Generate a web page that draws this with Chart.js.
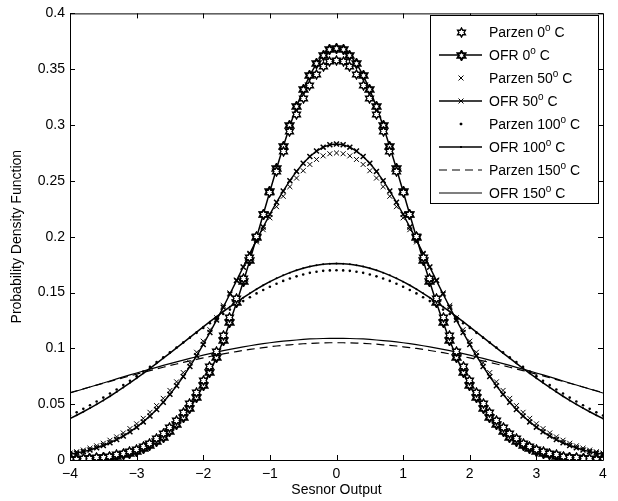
<!DOCTYPE html>
<html>
<head>
<meta charset="utf-8">
<script src="https://cdn.jsdelivr.net/npm/chart.js@4.4.1/dist/chart.umd.min.js"></script>
<style>
  body { margin: 0; background: #fff; }
  canvas { display: block; }
</style>
</head>
<body>
<canvas id="pdf_canvas" width="618" height="501"></canvas>
<script>
// sensor output grid, -4 .. 4 in steps of 0.1
const x_values = [-4.0, -3.9, -3.8, -3.7, -3.6, -3.5, -3.4, -3.3, -3.2, -3.1, -3.0, -2.9, -2.8, -2.7, -2.6, -2.5, -2.4, -2.3, -2.2, -2.1, -2.0, -1.9, -1.8, -1.7, -1.6, -1.5, -1.4, -1.3, -1.2, -1.1, -1.0, -0.9, -0.8, -0.7, -0.6, -0.5, -0.4, -0.3, -0.2, -0.1, 0.0, 0.1, 0.2, 0.3, 0.4, 0.5, 0.6, 0.7, 0.8, 0.9, 1.0, 1.1, 1.2, 1.3, 1.4, 1.5, 1.6, 1.7, 1.8, 1.9, 2.0, 2.1, 2.2, 2.3, 2.4, 2.5, 2.6, 2.7, 2.8, 2.9, 3.0, 3.1, 3.2, 3.3, 3.4, 3.5, 3.6, 3.7, 3.8, 3.9, 4.0]

const parzen_0 = [0.0006, 0.0008, 0.0011, 0.0014, 0.0019, 0.0026, 0.0034, 0.0045, 0.0058, 0.0075, 0.0095, 0.0121, 0.0152, 0.0190, 0.0235, 0.0289, 0.0352, 0.0425, 0.0509, 0.0606, 0.0714, 0.0836, 0.0970, 0.1117, 0.1276, 0.1446, 0.1625, 0.1812, 0.2004, 0.2199, 0.2393, 0.2583, 0.2766, 0.2939, 0.3097, 0.3237, 0.3357, 0.3453, 0.3523, 0.3566, 0.3580, 0.3566, 0.3523, 0.3453, 0.3357, 0.3237, 0.3097, 0.2939, 0.2766, 0.2583, 0.2393, 0.2199, 0.2004, 0.1812, 0.1625, 0.1446, 0.1276, 0.1117, 0.0970, 0.0836, 0.0714, 0.0606, 0.0509, 0.0425, 0.0352, 0.0289, 0.0235, 0.0190, 0.0152, 0.0121, 0.0095, 0.0075, 0.0058, 0.0045, 0.0034, 0.0026, 0.0019, 0.0014, 0.0011, 0.0008, 0.0006]
const ofr_0 = [0.0004, 0.0005, 0.0008, 0.0011, 0.0014, 0.0020, 0.0026, 0.0035, 0.0046, 0.0060, 0.0078, 0.0101, 0.0129, 0.0163, 0.0205, 0.0254, 0.0314, 0.0384, 0.0465, 0.0559, 0.0666, 0.0787, 0.0922, 0.1071, 0.1234, 0.1409, 0.1595, 0.1790, 0.1993, 0.2199, 0.2405, 0.2609, 0.2806, 0.2992, 0.3163, 0.3316, 0.3446, 0.3551, 0.3627, 0.3674, 0.3690, 0.3674, 0.3627, 0.3551, 0.3446, 0.3316, 0.3163, 0.2992, 0.2806, 0.2609, 0.2405, 0.2199, 0.1993, 0.1790, 0.1595, 0.1409, 0.1234, 0.1071, 0.0922, 0.0787, 0.0666, 0.0559, 0.0465, 0.0384, 0.0314, 0.0254, 0.0205, 0.0163, 0.0129, 0.0101, 0.0078, 0.0060, 0.0046, 0.0035, 0.0026, 0.0020, 0.0014, 0.0011, 0.0008, 0.0005, 0.0004]
const parzen_50 = [0.0062, 0.0074, 0.0089, 0.0106, 0.0127, 0.0150, 0.0177, 0.0207, 0.0242, 0.0281, 0.0324, 0.0373, 0.0427, 0.0487, 0.0552, 0.0623, 0.0700, 0.0783, 0.0871, 0.0965, 0.1064, 0.1167, 0.1274, 0.1384, 0.1497, 0.1612, 0.1726, 0.1841, 0.1953, 0.2063, 0.2169, 0.2269, 0.2362, 0.2448, 0.2525, 0.2591, 0.2647, 0.2692, 0.2724, 0.2743, 0.2750, 0.2743, 0.2724, 0.2692, 0.2647, 0.2591, 0.2525, 0.2448, 0.2362, 0.2269, 0.2169, 0.2063, 0.1953, 0.1841, 0.1726, 0.1612, 0.1497, 0.1384, 0.1274, 0.1167, 0.1064, 0.0965, 0.0871, 0.0783, 0.0700, 0.0623, 0.0552, 0.0487, 0.0427, 0.0373, 0.0324, 0.0281, 0.0242, 0.0207, 0.0177, 0.0150, 0.0127, 0.0106, 0.0089, 0.0074, 0.0062]
const ofr_50 = [0.0051, 0.0062, 0.0075, 0.0090, 0.0109, 0.0130, 0.0155, 0.0183, 0.0215, 0.0252, 0.0294, 0.0341, 0.0394, 0.0452, 0.0517, 0.0588, 0.0665, 0.0748, 0.0838, 0.0933, 0.1035, 0.1142, 0.1253, 0.1368, 0.1487, 0.1607, 0.1729, 0.1850, 0.1970, 0.2087, 0.2201, 0.2308, 0.2409, 0.2502, 0.2585, 0.2658, 0.2718, 0.2767, 0.2802, 0.2823, 0.2830, 0.2823, 0.2802, 0.2767, 0.2718, 0.2658, 0.2585, 0.2502, 0.2409, 0.2308, 0.2201, 0.2087, 0.1970, 0.1850, 0.1729, 0.1607, 0.1487, 0.1368, 0.1253, 0.1142, 0.1035, 0.0933, 0.0838, 0.0748, 0.0665, 0.0588, 0.0517, 0.0452, 0.0394, 0.0341, 0.0294, 0.0252, 0.0215, 0.0183, 0.0155, 0.0130, 0.0109, 0.0090, 0.0075, 0.0062, 0.0051]
const parzen_100 = [0.0398, 0.0427, 0.0458, 0.0490, 0.0524, 0.0559, 0.0595, 0.0632, 0.0671, 0.0710, 0.0751, 0.0792, 0.0834, 0.0877, 0.0920, 0.0964, 0.1008, 0.1052, 0.1095, 0.1139, 0.1182, 0.1225, 0.1267, 0.1308, 0.1347, 0.1386, 0.1423, 0.1458, 0.1492, 0.1523, 0.1552, 0.1579, 0.1604, 0.1626, 0.1645, 0.1662, 0.1676, 0.1686, 0.1694, 0.1698, 0.1700, 0.1698, 0.1694, 0.1686, 0.1676, 0.1662, 0.1645, 0.1626, 0.1604, 0.1579, 0.1552, 0.1523, 0.1492, 0.1458, 0.1423, 0.1386, 0.1347, 0.1308, 0.1267, 0.1225, 0.1182, 0.1139, 0.1095, 0.1052, 0.1008, 0.0964, 0.0920, 0.0877, 0.0834, 0.0792, 0.0751, 0.0710, 0.0671, 0.0632, 0.0595, 0.0559, 0.0524, 0.0490, 0.0458, 0.0427, 0.0398]
const ofr_100 = [0.0371, 0.0401, 0.0432, 0.0465, 0.0499, 0.0534, 0.0571, 0.0610, 0.0650, 0.0691, 0.0733, 0.0776, 0.0821, 0.0866, 0.0912, 0.0958, 0.1005, 0.1052, 0.1099, 0.1146, 0.1193, 0.1239, 0.1284, 0.1329, 0.1372, 0.1414, 0.1454, 0.1493, 0.1530, 0.1565, 0.1597, 0.1627, 0.1654, 0.1678, 0.1699, 0.1718, 0.1733, 0.1745, 0.1753, 0.1758, 0.1760, 0.1758, 0.1753, 0.1745, 0.1733, 0.1718, 0.1699, 0.1678, 0.1654, 0.1627, 0.1597, 0.1565, 0.1530, 0.1493, 0.1454, 0.1414, 0.1372, 0.1329, 0.1284, 0.1239, 0.1193, 0.1146, 0.1099, 0.1052, 0.1005, 0.0958, 0.0912, 0.0866, 0.0821, 0.0776, 0.0733, 0.0691, 0.0650, 0.0610, 0.0571, 0.0534, 0.0499, 0.0465, 0.0432, 0.0401, 0.0371]
const parzen_150 = [0.0604, 0.0620, 0.0637, 0.0654, 0.0671, 0.0687, 0.0704, 0.0720, 0.0737, 0.0753, 0.0769, 0.0785, 0.0801, 0.0816, 0.0831, 0.0846, 0.0860, 0.0874, 0.0888, 0.0901, 0.0914, 0.0927, 0.0939, 0.0950, 0.0961, 0.0971, 0.0981, 0.0990, 0.0999, 0.1007, 0.1014, 0.1021, 0.1027, 0.1032, 0.1037, 0.1041, 0.1044, 0.1047, 0.1049, 0.1050, 0.1050, 0.1050, 0.1049, 0.1047, 0.1044, 0.1041, 0.1037, 0.1032, 0.1027, 0.1021, 0.1014, 0.1007, 0.0999, 0.0990, 0.0981, 0.0971, 0.0961, 0.0950, 0.0939, 0.0927, 0.0914, 0.0901, 0.0888, 0.0874, 0.0860, 0.0846, 0.0831, 0.0816, 0.0801, 0.0785, 0.0769, 0.0753, 0.0737, 0.0720, 0.0704, 0.0687, 0.0671, 0.0654, 0.0637, 0.0620, 0.0604]
const ofr_150 = [0.0600, 0.0618, 0.0636, 0.0654, 0.0672, 0.0690, 0.0708, 0.0726, 0.0744, 0.0762, 0.0779, 0.0797, 0.0814, 0.0830, 0.0847, 0.0863, 0.0879, 0.0895, 0.0910, 0.0925, 0.0939, 0.0953, 0.0966, 0.0979, 0.0991, 0.1002, 0.1013, 0.1023, 0.1033, 0.1042, 0.1050, 0.1058, 0.1064, 0.1070, 0.1075, 0.1080, 0.1084, 0.1086, 0.1088, 0.1090, 0.1090, 0.1090, 0.1088, 0.1086, 0.1084, 0.1080, 0.1075, 0.1070, 0.1064, 0.1058, 0.1050, 0.1042, 0.1033, 0.1023, 0.1013, 0.1002, 0.0991, 0.0979, 0.0966, 0.0953, 0.0939, 0.0925, 0.0910, 0.0895, 0.0879, 0.0863, 0.0847, 0.0830, 0.0814, 0.0797, 0.0779, 0.0762, 0.0744, 0.0726, 0.0708, 0.0690, 0.0672, 0.0654, 0.0636, 0.0618, 0.0600]

const x_ticks = [-4, -3, -2, -1, 0, 1, 2, 3, 4]
const y_ticks = [0, 0.05, 0.1, 0.15, 0.2, 0.25, 0.3, 0.35, 0.4]
const legend_labels = [["Parzen 0", " C"], ["OFR 0", " C"], ["Parzen 50", " C"], ["OFR 50", " C"],
  ["Parzen 100", " C"], ["OFR 100", " C"], ["Parzen 150", " C"], ["OFR 150", " C"]]

const FONT = "'Liberation Sans', Arial, Helvetica, sans-serif"

// six pointed star (matlab 'hexagram') as an image for pointStyle
function make_hexagram(size, line_w) {
  var c = document.createElement("canvas")
  c.width = size
  c.height = size
  var ctx = c.getContext("2d")
  var cx = size / 2, cy = size / 2
  var r = size / 2 - 1
  var ri = r / Math.sqrt(3)
  ctx.beginPath()
  for (var i = 0; i < 12; i++) {
    var ang = -Math.PI / 2 + i * Math.PI / 6
    var rr = i % 2 == 0 ? r : ri
    var px = cx + rr * Math.cos(ang)
    var py = cy + rr * Math.sin(ang)
    if (i == 0) ctx.moveTo(px, py)
    else ctx.lineTo(px, py)
  }
  ctx.closePath()
  ctx.fillStyle = "#fff"
  ctx.fill()
  ctx.lineWidth = line_w
  ctx.strokeStyle = "#000"
  ctx.stroke()
  return c
}

var star_open = make_hexagram(11, 1.4)
var star_bold = make_hexagram(11, 2)

function pts(ys) {
  return x_values.map((x, i) => ({ x: x, y: ys[i] }))
}

function get_datasets() {
  return [
    { label: "Parzen 0", data: pts(parzen_0), showLine: false, pointStyle: star_open, pointRadius: 5 },
    { label: "OFR 0", data: pts(ofr_0), borderWidth: 1.5, pointStyle: star_bold, pointRadius: 5 },
    { label: "Parzen 50", data: pts(parzen_50), showLine: false, pointStyle: "crossRot", pointRadius: 3.5, pointBorderWidth: 1 },
    { label: "OFR 50", data: pts(ofr_50), borderWidth: 1.5, pointStyle: "crossRot", pointRadius: 3.5, pointBorderWidth: 1.5 },
    { label: "Parzen 100", data: pts(parzen_100), showLine: false, pointStyle: "circle", pointRadius: 1.3, pointBorderWidth: 0, pointBackgroundColor: "#000" },
    { label: "OFR 100", data: pts(ofr_100), borderWidth: 1.5, pointStyle: "circle", pointRadius: 1, pointBorderWidth: 0, pointBackgroundColor: "#000" },
    { label: "Parzen 150", data: pts(parzen_150), borderWidth: 1.2, borderDash: [8, 5], pointRadius: 0 },
    { label: "OFR 150", data: pts(ofr_150), borderWidth: 1.2, pointRadius: 0 },
  ].map(d => Object.assign({ borderColor: "#000", pointBorderColor: "#000", fill: false, tension: 0 }, d))
}

// matlab style box with inward ticks, and the boxed legend
const matlab_axes = {
  id: "matlab_axes",
  beforeDatasetsDraw(chart) {
    // keeps the star images crisp when placed at fractional pixels
    chart.ctx.imageSmoothingEnabled = false
  },
  afterDraw(chart) {
    var ctx = chart.ctx
    var a = chart.chartArea
    var xs = chart.scales.x, ys = chart.scales.y
    ctx.save()
    ctx.strokeStyle = "#000"
    ctx.lineWidth = 1
    ctx.beginPath()
    ctx.rect(a.left + 0.5, a.top + 0.5, a.right - a.left, a.bottom - a.top)
    x_ticks.forEach(v => {
      var px = Math.round(xs.getPixelForValue(v)) + 0.5
      ctx.moveTo(px, a.bottom); ctx.lineTo(px, a.bottom - 5)
      ctx.moveTo(px, a.top); ctx.lineTo(px, a.top + 5)
    })
    y_ticks.forEach(v => {
      var py = Math.round(ys.getPixelForValue(v)) + 0.5
      ctx.moveTo(a.left, py); ctx.lineTo(a.left + 5, py)
      ctx.moveTo(a.right, py); ctx.lineTo(a.right - 5, py)
    })
    ctx.stroke()

    // legend
    var lx = 430, ly = 15, lw = 168, lh = 188
    ctx.fillStyle = "#fff"
    ctx.fillRect(lx, ly, lw, lh)
    ctx.strokeRect(lx + 0.5, ly + 0.5, lw, lh)
    var sets = chart.data.datasets
    legend_labels.forEach((lab, i) => {
      var d = sets[i]
      var cy = 32 + i * 23.0
      var sx0 = 439, sx1 = 482, mx = 461
      if (d.showLine !== false) {
        ctx.save()
        ctx.lineWidth = d.borderWidth
        ctx.setLineDash(d.borderDash || [])
        ctx.beginPath()
        ctx.moveTo(sx0, cy); ctx.lineTo(sx1, cy)
        ctx.stroke()
        ctx.restore()
      }
      if (d.pointRadius > 0) {
        Chart.helpers.drawPoint(ctx, {
          pointStyle: d.pointStyle, radius: d.pointRadius, borderWidth: d.pointBorderWidth === undefined ? 1 : d.pointBorderWidth, rotation: 0
        }, mx, cy)
        if (d.pointStyle === "circle") { ctx.fillStyle = "#000"; ctx.beginPath(); ctx.arc(mx, cy, d.pointRadius, 0, Math.PI * 2); ctx.fill() }
      }
      ctx.fillStyle = "#000"
      ctx.textBaseline = "middle"
      ctx.textAlign = "left"
      ctx.font = "14px " + FONT
      var tx = 489
      ctx.fillText(lab[0], tx, cy + 1)
      tx += ctx.measureText(lab[0]).width
      ctx.font = "10px " + FONT
      ctx.fillText("o", tx, cy - 4)
      tx += ctx.measureText("o").width
      ctx.font = "14px " + FONT
      ctx.fillText(lab[1], tx, cy + 1)
    })
    ctx.restore()
  }
}

window.addEventListener("DOMContentLoaded", () => {
  var config = {
    type: "line",
    data: { datasets: get_datasets() },
    options: {
      responsive: false,
      animation: false,
      devicePixelRatio: 1,
      layout: { padding: { top: 7, right: 15, left: 0, bottom: 0 } },
      plugins: { legend: { display: false }, tooltip: { enabled: false } },
      scales: {
        x: {
          type: "linear", min: -4, max: 4,
          afterFit: s => { s.height = 41 },
          afterBuildTicks: s => { s.ticks = x_ticks.map(v => ({ value: v })) },
          grid: { display: false, drawTicks: false },
          border: { display: false },
          ticks: { color: "#000", padding: 6, font: { family: FONT, size: 14 }, callback: v => String(v).replace("-", "\u2212") },
          title: { display: true, text: "Sesnor Output", color: "#000", font: { family: FONT, size: 14 }, padding: { top: 0, bottom: 2 } },
        },
        y: {
          type: "linear", min: 0, max: 0.4,
          afterFit: s => { s.width = 70 },
          afterBuildTicks: s => { s.ticks = y_ticks.map(v => ({ value: v })) },
          grid: { display: false, drawTicks: false },
          border: { display: false },
          ticks: { color: "#000", padding: 5, font: { family: FONT, size: 14 }, callback: v => String(+v.toFixed(2)) },
          title: { display: true, text: "Probability Density Function", color: "#000", font: { family: FONT, size: 14 }, padding: { top: 9, bottom: 0 } },
        },
      },
    },
    plugins: [matlab_axes],
  }
  new Chart(document.getElementById("pdf_canvas").getContext("2d"), config)
})
</script>
</body>
</html>
